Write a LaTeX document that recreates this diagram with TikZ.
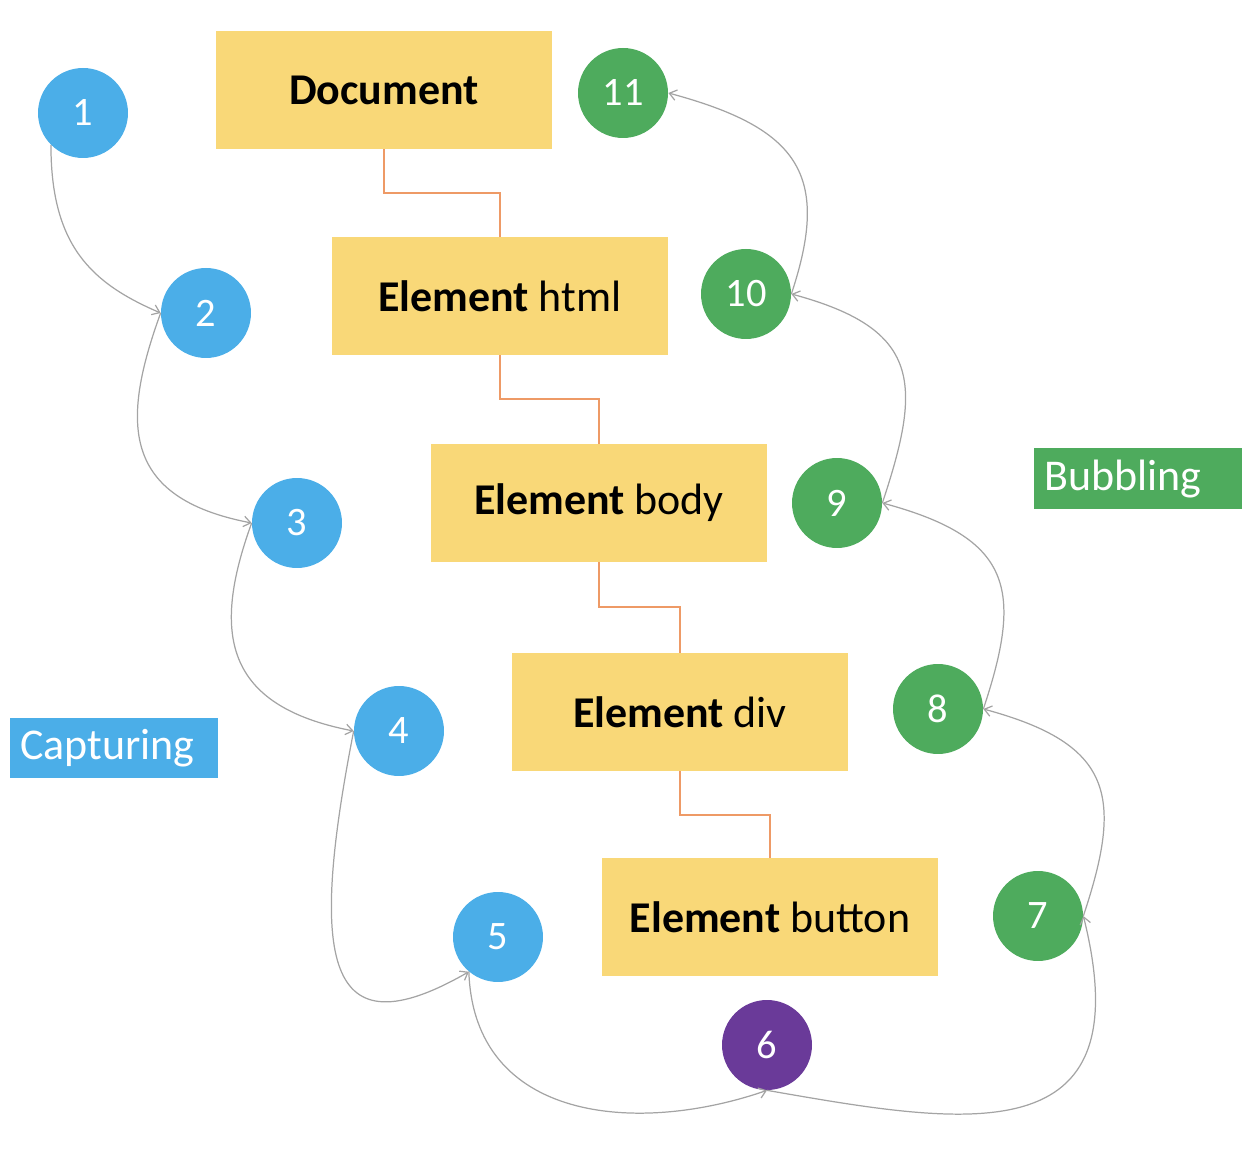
\documentclass[tikz,border=0pt]{standalone}
\usepackage{fontspec}
\setmainfont{Carlito}
\usetikzlibrary{arrows.meta}

\definecolor{capblue}{HTML}{4BAEE8}
\definecolor{bubgreen}{HTML}{4EAB5D}
\definecolor{targetpurple}{HTML}{6A3A99}
\definecolor{elemyellow}{HTML}{F9D878}
\definecolor{treeorange}{HTML}{EE9A66}
\definecolor{flowgray}{HTML}{A4A4A4}

\begin{document}
\begin{tikzpicture}[x=0.02cm, y=0.02cm,
        capnode/.style={circle, fill=capblue, text=white, minimum size=1.8cm, inner sep=0pt,
                        font=\fontsize{23}{27}\selectfont},
        bubnode/.style={capnode, fill=bubgreen},
        elembox/.style={rectangle, fill=elemyellow, minimum width=6.72cm, minimum height=2.36cm,
                        font=\fontsize{25}{30}\selectfont},
        phasebox/.style={rectangle, text=white, text width=3.76cm, inner xsep=0.2cm,
                         minimum height=1.22cm, align=left, anchor=west,
                         font=\fontsize{25}{30}\selectfont},
        treeline/.style={draw=treeorange, line width=1pt},
        flow/.style={draw=flowgray, line width=0.7pt, -{Straight Barb[length=4pt,width=6pt]}}]

        \useasboundingbox (0,0) rectangle (1250,1156);

        % DOM tree
        \node[elembox] (doc)    at (384,1066) {\textbf{Document}};
        \node[elembox] (html)   at (500, 860) {\textbf{Element} html};
        \node[elembox] (body)   at (599, 653) {\textbf{Element} body};
        \node[elembox] (div)    at (680, 444) {\textbf{Element} div};
        \node[elembox] (button) at (770, 239) {\textbf{Element} button};

        \draw[treeline] (doc.south)  -- ++(0,-44) -| (html.north);
        \draw[treeline] (html.south) -- ++(0,-44) -| (body.north);
        \draw[treeline] (body.south) -- ++(0,-45) -| (div.north);
        \draw[treeline] (div.south)  -- ++(0,-44) -| (button.north);

        % Capturing phase
        \node[capnode] (n1) at ( 83,1043) {1};
        \node[capnode] (n2) at (206, 843) {2};
        \node[capnode] (n3) at (297, 633) {3};
        \node[capnode] (n4) at (399, 425) {4};
        \node[capnode] (n5) at (498, 219) {5};

        % Target
        \node[capnode, fill=targetpurple] (n6) at (767,111) {6};

        % Bubbling phase
        \node[bubnode] (n7)  at (1038, 240) {7};
        \node[bubnode] (n8)  at ( 938, 447) {8};
        \node[bubnode] (n9)  at ( 837, 653) {9};
        \node[bubnode] (n10) at ( 746, 862) {10};
        \node[bubnode] (n11) at ( 623,1063) {11};

        % Phase labels
        \node[phasebox, fill=capblue]  (capture) at (  10,408) {Capturing};
        \node[phasebox, fill=bubgreen] (bubble)  at (1034,677) {Bubbling};

        % Event path
        \draw[flow] (n1.225)   .. controls +(0,-100)   and +(-70,30)    .. (n2.west);
        \draw[flow] (n2.west)  .. controls +(-40,-110) and +(-130,25)   .. (n3.west);
        \draw[flow] (n3.west)  .. controls +(-40,-110) and +(-130,25)   .. (n4.west);
        \draw[flow] (n4.west)  .. controls +(-45,-230) and +(-144,-83)  .. (n5.230);
        \draw[flow] (n5.230)   .. controls +(5,-150)   and +(-130,-45)  .. (n6.south);
        \draw[flow] (n6.south) .. controls +(200,-35)  and +(60,-240)   .. (n7.east);
        \draw[flow] (n7.east)  .. controls +(40,120)   and +(130,-35)   .. (n8.east);
        \draw[flow] (n8.east)  .. controls +(40,120)   and +(130,-35)   .. (n9.east);
        \draw[flow] (n9.east)  .. controls +(40,120)   and +(130,-35)   .. (n10.east);
        \draw[flow] (n10.east) .. controls +(40,120)   and +(130,-35)   .. (n11.east);

\end{tikzpicture}
\end{document}
